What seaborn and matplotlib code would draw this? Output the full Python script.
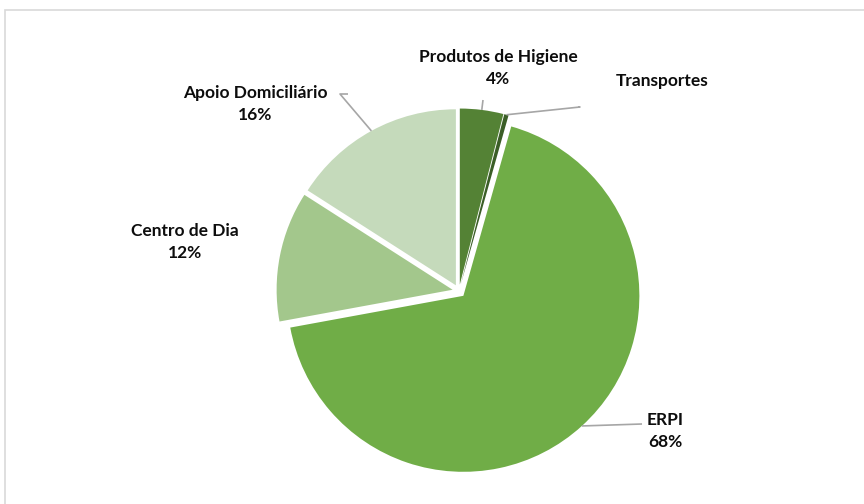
import numpy as np
import matplotlib.pyplot as plt
import seaborn as sns

sns.set_style("white")
plt.rcParams['font.family'] = ['Lato', 'DejaVu Sans']

categories = ['Produtos de Higiene', 'Transportes', 'ERPI', 'Centro de Dia', 'Apoio Domiciliário']
shares = [4, 0.4, 68, 12, 16]
pct_labels = ['4%', '', '68%', '12%', '16%']
colors = ['#548235', '#3B5E27', '#70AD47', '#A3C78C', '#C5DABB']

W, H = 864, 504
fig = plt.figure(figsize=(W / 100, H / 100), dpi=100)
ax = fig.add_axes([0, 0, 1, 1])

cx, cy, r = 459, H - 291, 176
# explode is in data units (pixels here)
wedges, _ = ax.pie(shares, colors=colors, startangle=90, counterclock=False,
                   explode=[6.5] * len(shares), center=(cx, cy), radius=r,
                   wedgeprops=dict(linewidth=0))
ax.set_xlim(0, W)
ax.set_ylim(0, H)
ax.set_aspect('equal')
ax.axis('off')

# chart frame
fig.patches.append(plt.Rectangle((5 / W, -0.1), 1.2, (H - 10) / H + 0.1,
                                 transform=fig.transFigure, fill=False,
                                 edgecolor='#D9D9D9', linewidth=1.2))

# label text positions (image pixels) and leader lines
text_pos = {
    'Produtos de Higiene': (498, 68),
    'Transportes': (662, 81),
    'ERPI': (665, 431),
    'Centro de Dia': (185, 242),
    'Apoio Domiciliário': (255, 104),
}
leaders = {
    'Produtos de Higiene': [(483, 100)],
    'Transportes': [(580, 107), (578, 107)],
    'ERPI': [(642, 424)],
    'Apoio Domiciliário': [(340, 94), (348, 94)],
}

for w, name, pct in zip(wedges, categories, pct_labels):
    tx, ty = text_pos[name]
    label = name if not pct else f'{name}\n{pct}'
    ax.text(tx, H - ty, label, ha='center', va='center', fontsize=12.5,
            fontweight='bold', color='#0d0d0d', linespacing=1.45)
    if name in leaders:
        mid = np.deg2rad((w.theta1 + w.theta2) / 2)
        wx, wy = w.center
        ex = wx + w.r * np.cos(mid)
        ey = wy + w.r * np.sin(mid)
        pts = [(x, H - y) for x, y in leaders[name]][::-1] + [(ex, ey)]
        xs, ys = zip(*pts)
        ax.plot(xs, ys, color='#A6A6A6', linewidth=1.2, solid_capstyle='butt')

fig.savefig('out.png', dpi=100)
